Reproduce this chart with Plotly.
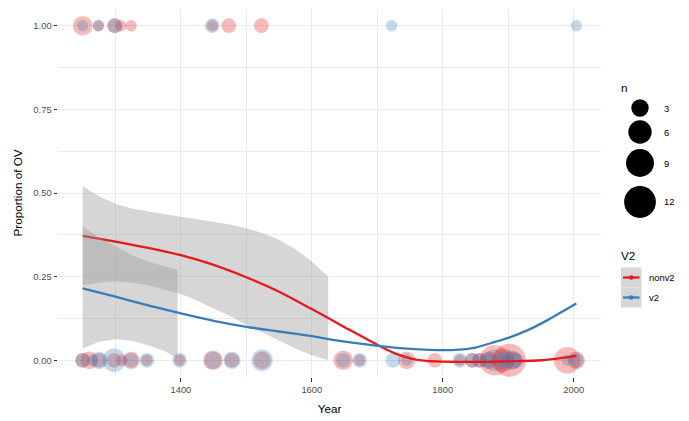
import numpy as np
import plotly.graph_objects as go

# ---------------- data ----------------
# nonv2 texts: proportion 1 and proportion 0 (year, n)
nonv2_years_1 = [1250, 1274, 1299, 1308, 1324, 1448, 1473, 1523]
nonv2_n_1 = [4, 1, 2, 1, 1, 1, 2, 2]
nonv2_years_0 = [1250, 1260, 1275, 1298, 1310, 1324, 1348, 1398, 1449, 1478, 1524,
                 1648, 1673, 1745, 1788, 1826, 1845, 1856, 1870, 1879, 1892, 1902,
                 1908, 1990, 2004]
nonv2_n_0 = [2, 3, 2, 2, 1, 3, 1, 1, 4, 2, 3,
             4, 1, 3, 2, 1, 2, 2, 3, 11, 6, 13,
             3, 8, 3]

# v2 texts
v2_years_1 = [1250, 1274, 1299, 1448, 1722, 2004]
v2_n_1 = [1, 1, 2, 2, 1, 1]
v2_years_0 = [1250, 1265, 1275, 1298, 1324, 1348, 1398, 1449, 1478, 1524,
              1648, 1673, 1724, 1745, 1826, 1845, 1856, 1868, 1879, 1895,
              1905, 1912, 1990, 2004]
v2_n_0 = [2, 1, 3, 6, 2, 2, 2, 3, 3, 5,
          2, 2, 2, 1, 2, 2, 2, 2, 5, 3,
          4, 2, 1, 2]

# smoothed fits (loess)
nonv2_fit_x = [1250, 1300, 1350, 1400, 1450, 1500, 1550, 1600, 1650, 1700, 1725,
               1750, 1775, 1800, 1850, 1900, 1950, 1975, 2004]
nonv2_fit_y = [0.372, 0.355, 0.336, 0.314, 0.285, 0.248, 0.205, 0.153, 0.099, 0.046,
               0.022, 0.006, -0.002, -0.004, -0.005, -0.003, 0.0, 0.005, 0.013]
v2_fit_x = [1250, 1300, 1350, 1400, 1450, 1500, 1550, 1600, 1630, 1680, 1730, 1780,
            1820, 1850, 1880, 1900, 1930, 1960, 1985, 2004]
v2_fit_y = [0.215, 0.19, 0.164, 0.14, 0.118, 0.1, 0.086, 0.072, 0.062, 0.048, 0.037,
            0.031, 0.031, 0.038, 0.055, 0.067, 0.09, 0.12, 0.148, 0.17]

# confidence bands (clipped where they leave [0, 1])
nonv2_band_x = [1250, 1275, 1300, 1325, 1350, 1375, 1400, 1425, 1450, 1475, 1500,
                1525, 1550, 1575, 1600, 1625]
nonv2_band_hi = [0.52, 0.49, 0.468, 0.454, 0.445, 0.437, 0.43, 0.423, 0.415, 0.406,
                 0.395, 0.38, 0.36, 0.332, 0.295, 0.25]
nonv2_band_lo = [0.225, 0.232, 0.236, 0.232, 0.224, 0.212, 0.198, 0.178, 0.156, 0.132,
                 0.106, 0.082, 0.058, 0.035, 0.015, 0.0]
v2_band_x = [1250, 1275, 1300, 1325, 1350, 1375, 1395]
v2_band_hi = [0.40, 0.368, 0.34, 0.315, 0.295, 0.28, 0.27]
v2_band_lo = [0.035, 0.055, 0.063, 0.058, 0.045, 0.028, 0.005]

x_ticks = [1400, 1600, 1800, 2000]
y_ticks = [0, 0.25, 0.5, 0.75, 1.0]
y_ticklabels = ["0.00", "0.25", "0.50", "0.75", "1.00"]
size_breaks = [3, 6, 9, 12]
groups = ["nonv2", "v2"]

RED = "#E41A1C"
BLUE = "#377EB8"
FONT = "Liberation Sans"


def dia(n):
    return 3 + 8.3 * np.sqrt(np.asarray(n, dtype=float))


fig = go.Figure()

# points
for xs0, ns0, xs1, ns1, col in [
    (nonv2_years_0, nonv2_n_0, nonv2_years_1, nonv2_n_1, RED),
    (v2_years_0, v2_n_0, v2_years_1, v2_n_1, BLUE),
]:
    xs = xs1 + xs0
    ys = [1.0] * len(xs1) + [0.0] * len(xs0)
    ns = ns1 + ns0
    fig.add_trace(go.Scatter(
        x=xs, y=ys, mode="markers",
        marker=dict(size=dia(ns), color=col, opacity=0.3, line=dict(width=0)),
        showlegend=False, hoverinfo="skip", cliponaxis=False))

# smooths: ribbon then line for each group
for bx, bhi, blo, fx, fy, col in [
    (nonv2_band_x, nonv2_band_hi, nonv2_band_lo, nonv2_fit_x, nonv2_fit_y, RED),
    (v2_band_x, v2_band_hi, v2_band_lo, v2_fit_x, v2_fit_y, BLUE),
]:
    fig.add_trace(go.Scatter(
        x=bx + bx[::-1], y=bhi + blo[::-1], mode="lines", fill="toself",
        fillcolor="rgba(153,153,153,0.4)", line=dict(width=0),
        showlegend=False, hoverinfo="skip"))
    fig.add_trace(go.Scatter(
        x=fx, y=fy, mode="lines", line=dict(color=col, width=2.3, shape="spline",
                                            smoothing=0.8),
        showlegend=False, hoverinfo="skip"))

# ---------------- custom legends ----------------
L, R, T, B = 58, 88, 9, 44
W, H = 689, 421
PW, PH = W - L - R, H - T - B


def px(x):
    return (x - L) / PW


def py(y):
    return (H - B - y) / PH


shapes = []
annotations = []

annotations.append(dict(x=px(619), y=py(87), xref="paper", yref="paper", text="n",
                        showarrow=False, xanchor="left", yanchor="middle",
                        font=dict(family=FONT, size=11.7, color="black")))
for b, yc in zip(size_breaks, [108, 132, 163, 202]):
    r = float(dia(b)) / 2
    shapes.append(dict(type="circle", xref="paper", yref="paper",
                       xsizemode="pixel", ysizemode="pixel",
                       xanchor=px(640), yanchor=py(yc), x0=-r, x1=r, y0=-r, y1=r,
                       fillcolor="black", line=dict(width=0)))
    annotations.append(dict(x=px(662), y=py(yc), xref="paper", yref="paper", text=str(b),
                            showarrow=False, xanchor="left", yanchor="middle",
                            font=dict(family=FONT, size=9.4, color="black")))

annotations.append(dict(x=px(619), y=py(255), xref="paper", yref="paper", text="V2",
                        showarrow=False, xanchor="left", yanchor="middle",
                        font=dict(family=FONT, size=11.7, color="black")))
for g, col, yc in zip(groups, [RED, BLUE], [277.5, 297.5]):
    shapes.append(dict(type="rect", xref="paper", yref="paper",
                       x0=px(621), x1=px(641.5), y0=py(yc - 10), y1=py(yc + 10),
                       fillcolor="rgb(214,214,214)", line=dict(width=0)))
    shapes.append(dict(type="line", xref="paper", yref="paper",
                       x0=px(623), x1=px(639.5), y0=py(yc), y1=py(yc),
                       line=dict(color=col, width=2.3)))
    shapes.append(dict(type="circle", xref="paper", yref="paper",
                       xsizemode="pixel", ysizemode="pixel",
                       xanchor=px(631.2), yanchor=py(yc), x0=-2.3, x1=2.3, y0=-2.3, y1=2.3,
                       fillcolor=col, line=dict(width=0)))
    annotations.append(dict(x=px(647), y=py(yc), xref="paper", yref="paper", text=g,
                            showarrow=False, xanchor="left", yanchor="middle",
                            font=dict(family=FONT, size=9.4, color="black")))

GRID = "#EBEBEB"
fig.update_layout(
    width=W, height=H,
    margin=dict(l=L, r=R, t=T, b=B, autoexpand=False),
    paper_bgcolor="white", plot_bgcolor="white",
    font=dict(family=FONT, size=9.4, color="#4D4D4D"),
    showlegend=False,
    shapes=shapes, annotations=annotations,
    xaxis=dict(
        range=[1212.3, 2041.7], tickvals=x_ticks, ticktext=[str(t) for t in x_ticks],
        showgrid=True, gridcolor=GRID, gridwidth=1.07, zeroline=False, showline=False,
        ticks="outside", ticklen=3.5, tickwidth=1, tickcolor="#333333",
        tickfont=dict(family=FONT, size=9.4, color="#4D4D4D"),
        minor=dict(tickvals=[1300, 1500, 1700, 1900], showgrid=True, gridcolor=GRID,
                   gridwidth=0.55, ticks=""),
        title=dict(text="Year", font=dict(family=FONT, size=11.7, color="black"), standoff=11),
        automargin=False,
    ),
    yaxis=dict(
        range=[-0.05, 1.05], tickvals=y_ticks, ticktext=y_ticklabels,
        showgrid=True, gridcolor=GRID, gridwidth=1.07, zeroline=False, showline=False,
        ticks="outside", ticklen=3.5, tickwidth=1, tickcolor="#333333",
        tickfont=dict(family=FONT, size=9.4, color="#4D4D4D"),
        minor=dict(tickvals=[0.125, 0.375, 0.625, 0.875], showgrid=True, gridcolor=GRID,
                   gridwidth=0.55, ticks=""),
        title=dict(text="Proportion of OV", font=dict(family=FONT, size=11.7, color="black"),
                   standoff=8),
        automargin=False,
    ),
)

fig.write_html("out.html", config={"displayModeBar": False},
               post_script="document.body.style.margin='0';document.body.style.padding='0';")
